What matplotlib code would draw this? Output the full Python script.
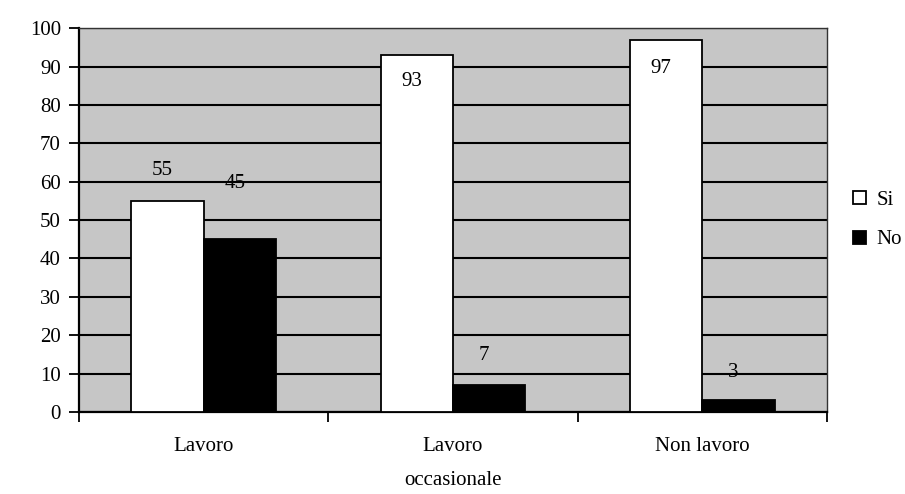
import numpy as np
import matplotlib.pyplot as plt

# valori (percentuali)
categorie = ['Lavoro', 'Lavoro\noccasionale', 'Non lavoro']
si = [55, 93, 97]
no = [45, 7, 3]

plt.rcParams['font.family'] = ['Liberation Serif', 'DejaVu Serif']

fig = plt.figure(figsize=(9.05, 4.94), dpi=100)
ax = fig.add_axes([0.0873, 0.166, 0.8265, 0.777])
ax.set_facecolor('#c6c6c6')

x = np.arange(len(categorie))
w = 0.29
ax.bar(x - w / 2, si, w, color='white', edgecolor='black', linewidth=1.3, label='Si', zorder=3)
ax.bar(x + w / 2, no, w, color='black', edgecolor='black', linewidth=1.3, label='No', zorder=3)

# etichette dei valori (spostamento come nell'originale)
off_si = [8, -7, -7.4]
off_no = [14.6, 7.8, 7.4]
for i, v in enumerate(si):
    ax.text(x[i] - w / 2 - 0.02, v + off_si[i], str(v), ha='center', va='center', fontsize=15, zorder=4)
for i, v in enumerate(no):
    ax.text(x[i] + w / 2 - 0.02, v + off_no[i], str(v), ha='center', va='center', fontsize=15, zorder=4)

ax.set_ylim(0, 100)
ax.set_xlim(-0.5, 2.5)
ax.set_yticks(range(0, 101, 10))
ax.yaxis.grid(True, color='black', linewidth=1.5, zorder=1)
ax.set_axisbelow(True)

ax.set_xticks(x)
ax.set_xticklabels(categorie, fontsize=15, linespacing=2.1, va='top')
ax.tick_params(axis='x', which='major', length=0, pad=18)
ax.set_xticks([-0.5, 0.5, 1.5, 2.5], minor=True)
ax.tick_params(axis='x', which='minor', length=7, width=1.3, direction='out')
ax.tick_params(axis='y', length=7, width=1.3, direction='out', labelsize=15, pad=6)

for s in ['left', 'bottom']:
    ax.spines[s].set_linewidth(1.6)
for s in ['top', 'right']:
    ax.spines[s].set_linewidth(1.0)
    ax.spines[s].set_color('#333333')

ax.legend(loc='center left', bbox_to_anchor=(1.01, 0.5), frameon=False, fontsize=15,
          handlelength=0.6, handleheight=0.6, handletextpad=0.5, labelspacing=1.0)

fig.savefig('out.png', dpi=100)
